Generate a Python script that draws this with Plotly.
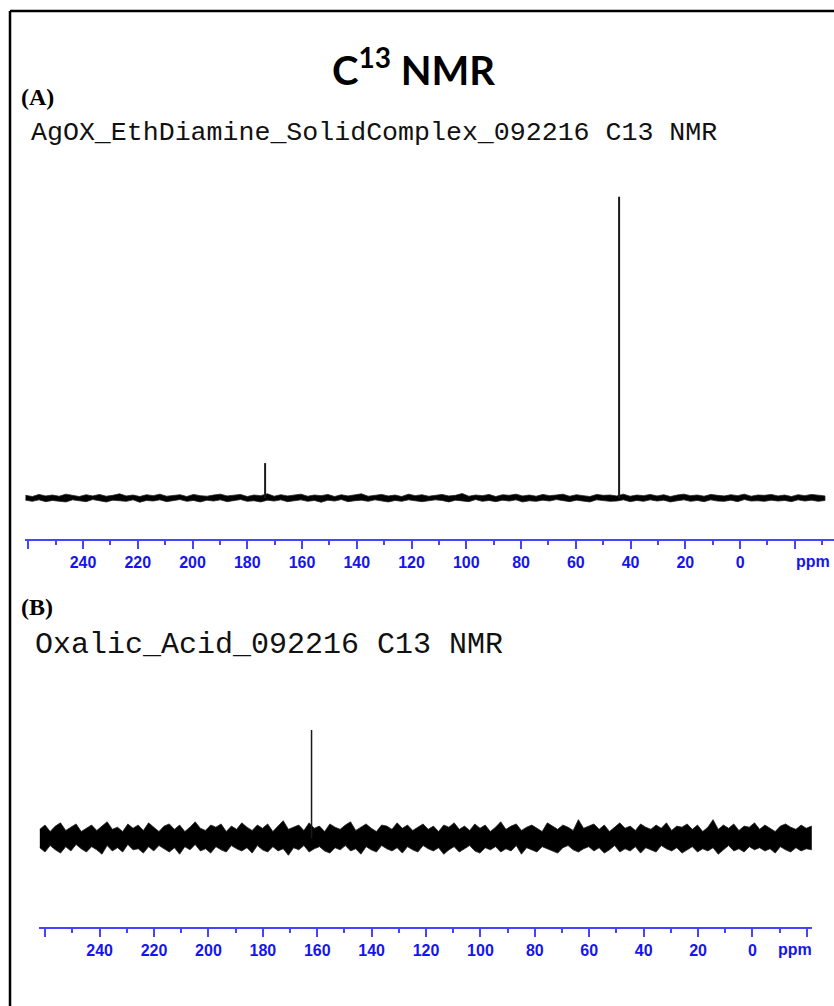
import numpy as np
import plotly.graph_objects as go

# ---------------- data ----------------
tick_vals = [260, 240, 220, 200, 180, 160, 140, 120, 100, 80, 60, 40, 20, 0, -20]
tick_text = ["", "240", "220", "200", "180", "160", "140", "120", "100", "80", "60", "40", "20", "0", ""]

# Panel A: AgOX ethylenediamine complex (intensity, tallest peak = 100)
peaks_A_ppm = [44.2, 173.5]
peaks_A_int = [100.0, 11.6]
noise_A_up = [0.9,0.5,1.2,0.7,1.0,0.6,1.3,0.8,0.5,1.1,
              0.7,1.2,0.6,0.9,1.4,0.7,1.0,0.5,1.1,0.8,
              1.3,0.6,0.9,1.1,0.5,1.2,0.8,0.6,1.0,1.3,
              0.7,0.9,1.2,0.5,1.0,0.8,1.4,0.6,1.1,0.7,
              0.9,1.3,0.6,1.0,0.8,1.2,0.5,1.1,0.7,1.0,
              1.4,0.6,0.9,1.2,0.7,1.0,0.5,1.3,0.8,1.1,
              0.6,1.0,1.2,0.7,0.9,1.5,0.6,1.0,0.8,1.2,
              0.5,1.1,0.9,1.3,0.7,1.0,0.6,1.2,0.8,1.0,
              1.3,0.6,1.1,0.8,0.5,1.2,0.9,1.0,0.7,1.3,
              0.6,1.0,0.8,1.2,0.7,1.1,0.5,1.0,1.3,0.8,
              1.0,0.6,1.2,0.9,0.7,1.1,0.8,1.3,0.6,1.0,
              0.9,1.2,0.7,1.0,0.5,1.1,0.8,1.2,0.9,0.7]
noise_A_lo = [-0.7,-1.1,-0.6,-1.2,-0.8,-1.0,-1.3,-0.6,-0.9,-1.2,
              -0.5,-1.0,-1.3,-0.7,-0.9,-1.1,-0.6,-1.4,-0.8,-1.0,
              -0.6,-1.2,-0.9,-0.5,-1.1,-0.8,-1.3,-0.7,-1.0,-0.6,
              -1.2,-0.8,-0.5,-1.1,-0.9,-1.3,-0.7,-1.0,-0.6,-1.2,
              -0.9,-0.6,-1.1,-0.8,-1.4,-0.7,-1.0,-0.5,-1.2,-0.9,
              -0.7,-1.1,-0.6,-1.0,-1.3,-0.8,-1.1,-0.6,-0.9,-1.2,
              -1.0,-0.6,-0.8,-1.3,-0.7,-1.0,-1.2,-0.5,-1.1,-0.8,
              -1.2,-0.7,-1.0,-0.6,-1.3,-0.9,-1.1,-0.7,-1.0,-0.5,
              -0.9,-1.2,-0.7,-1.0,-1.3,-0.6,-0.8,-1.1,-1.0,-0.6,
              -1.2,-0.8,-1.1,-0.6,-1.0,-0.7,-1.3,-0.9,-0.6,-1.1,
              -0.8,-1.2,-0.6,-1.0,-1.1,-0.7,-1.2,-0.5,-1.0,-0.9,
              -1.1,-0.7,-1.0,-0.8,-1.2,-0.6,-1.0,-0.7,-1.1,-0.8]
span_A = [261.0, -31.0]

# Panel B: oxalic acid
peaks_B_ppm = [162.1]
peaks_B_int = [100.0]
noise_B_up = [8,12,6,11,14,7,10,13,6,9,
              12,7,11,15,8,10,6,13,9,12,
              7,14,10,6,11,13,8,12,6,10,
              15,9,7,12,10,13,6,11,8,14,
              10,7,12,9,13,6,11,16,8,10,
              12,7,14,9,11,6,13,10,8,12,
              15,7,10,13,9,6,12,11,8,14,
              9,12,7,10,13,8,11,6,12,10,
              14,8,11,7,13,9,12,6,10,15,
              8,11,13,7,10,12,9,6,14,11,
              8,12,10,7,17,9,11,13,8,12,
              6,10,14,9,11,7,13,10,8,12,
              9,14,7,11,10,13,8,12,6,10,
              17,8,12,9,13,7,11,10,14,8,
              12,9,6,11,13,10,8,12,9,11]
noise_B_lo = [-9,-13,-7,-11,-14,-8,-12,-6,-10,-13,
              -8,-11,-15,-7,-12,-9,-13,-6,-11,-10,
              -14,-8,-12,-7,-10,-13,-9,-15,-8,-11,
              -6,-12,-10,-14,-8,-11,-13,-7,-10,-12,
              -9,-14,-7,-11,-13,-8,-12,-10,-16,-9,
              -11,-7,-13,-10,-8,-12,-14,-9,-11,-7,
              -12,-10,-15,-8,-11,-13,-7,-10,-12,-9,
              -14,-8,-11,-13,-7,-10,-12,-9,-15,-11,
              -8,-13,-10,-7,-12,-14,-9,-11,-8,-13,
              -10,-12,-7,-15,-9,-11,-13,-8,-10,-12,
              -14,-9,-7,-11,-13,-10,-8,-12,-9,-14,
              -11,-7,-13,-10,-12,-8,-14,-9,-11,-13,
              -7,-10,-12,-9,-14,-11,-8,-13,-10,-12,
              -9,-15,-11,-7,-12,-10,-13,-8,-11,-9,
              -12,-10,-14,-8,-11,-13,-9,-12,-10,-11]
span_B = [262.0, -21.7]


def band(up, lo, span):
    grid = list(np.linspace(span[0], span[1], len(up)))
    xs = grid + grid[::-1]
    ys = list(up) + list(lo)[::-1]
    return xs, ys


def sticks(ppm, inten):
    xs, ys = [], []
    for p, h in zip(ppm, inten):
        xs += [p, p, None]
        ys += [0, h, None]
    return xs, ys


W, H = 834, 1006
BLUE_LINE = "#4545ff"
BLUE_TXT = "#1515f0"

fig = go.Figure()
xa, ya = band(noise_A_up, noise_A_lo, span_A)
fig.add_trace(go.Scatter(x=xa, y=ya, mode="lines", fill="toself", fillcolor="black",
                         line=dict(color="#222222", width=0.8),
                         xaxis="x", yaxis="y", hoverinfo="skip"))
px_, py_ = sticks(peaks_A_ppm, peaks_A_int)
fig.add_trace(go.Scatter(x=px_, y=py_, mode="lines", line=dict(color="#1a1a1a", width=2),
                         xaxis="x", yaxis="y"))
xb, yb = band(noise_B_up, noise_B_lo, span_B)
fig.add_trace(go.Scatter(x=xb, y=yb, mode="lines", fill="toself", fillcolor="black",
                         line=dict(color="#222222", width=0.8),
                         xaxis="x2", yaxis="y2", hoverinfo="skip"))
px_, py_ = sticks(peaks_B_ppm, peaks_B_int)
fig.add_trace(go.Scatter(x=px_, y=py_, mode="lines", line=dict(color="#1a1a1a", width=1.5),
                         xaxis="x2", yaxis="y2"))


def xaxis_style(domain, rng, anchor):
    return dict(domain=domain, range=rng, anchor=anchor, showgrid=False, zeroline=False,
                showline=True, linecolor=BLUE_LINE, linewidth=2,
                ticks="outside", ticklen=8, tickwidth=2, tickcolor=BLUE_LINE,
                tickvals=tick_vals, ticktext=tick_text,
                tickfont=dict(family="Liberation Sans, Arial", size=16, color=BLUE_TXT, weight="bold"),
                minor=dict(ticks="outside", ticklen=4, tickwidth=2, tickcolor=BLUE_LINE,
                           dtick=10, tick0=0, showgrid=False))


def py(p):
    return 1 - p / H


fig.update_layout(
    width=W, height=H, margin=dict(l=0, r=0, t=0, b=0),
    paper_bgcolor="white", plot_bgcolor="white", showlegend=False,
    xaxis=xaxis_style([25 / W, 1.0], [261.2, -34.3], "y"),
    yaxis=dict(domain=[py(539), py(180)], range=[-13.6, 105.6], visible=False),
    xaxis2=xaxis_style([39 / W, 812 / W], [262.3, -21.9], "y2"),
    yaxis2=dict(domain=[py(927), py(690)], range=[-82.4, 137.0], visible=False),
)

ann = [
    dict(text="<b>C<sup>13</sup> NMR</b>", x=413 / W, y=py(67), xanchor="center", yanchor="middle",
         font=dict(family="Lato, Open Sans", size=40, color="black")),
    dict(text="<b>(A)</b>", x=19 / W, y=py(97), xanchor="left", yanchor="middle",
         font=dict(family="Liberation Serif, Times New Roman", size=24, color="black")),
    dict(text="AgOX_EthDiamine_SolidComplex_092216 C13 NMR", x=29 / W, y=py(133),
         xanchor="left", yanchor="middle",
         font=dict(family="Liberation Mono, Courier New", size=26.6, color="#111111")),
    dict(text="<b>(B)</b>", x=19 / W, y=py(607), xanchor="left", yanchor="middle",
         font=dict(family="Liberation Serif, Times New Roman", size=24, color="black")),
    dict(text="Oxalic_Acid_092216 C13 NMR", x=33 / W, y=py(645),
         xanchor="left", yanchor="middle",
         font=dict(family="Liberation Mono, Courier New", size=30, color="#111111")),
    dict(text="<b>ppm</b>", x=832 / W, y=py(561), xanchor="right", yanchor="middle",
         font=dict(family="Liberation Sans, Arial", size=16, color=BLUE_TXT)),
    dict(text="<b>ppm</b>", x=795 / W, y=py(949), xanchor="center", yanchor="middle",
         font=dict(family="Liberation Sans, Arial", size=16, color=BLUE_TXT)),
]
for a in ann:
    a.update(xref="paper", yref="paper", showarrow=False)
fig.update_layout(annotations=ann)

fig.update_layout(shapes=[
    dict(type="line", xref="paper", yref="paper", x0=10 / W, x1=1.02, y0=py(11), y1=py(11),
         line=dict(color="black", width=2.5)),
    dict(type="line", xref="paper", yref="paper", x0=10 / W, x1=10 / W, y0=py(11), y1=-0.02,
         line=dict(color="black", width=2.5)),
])

fig.write_html("out.html")
